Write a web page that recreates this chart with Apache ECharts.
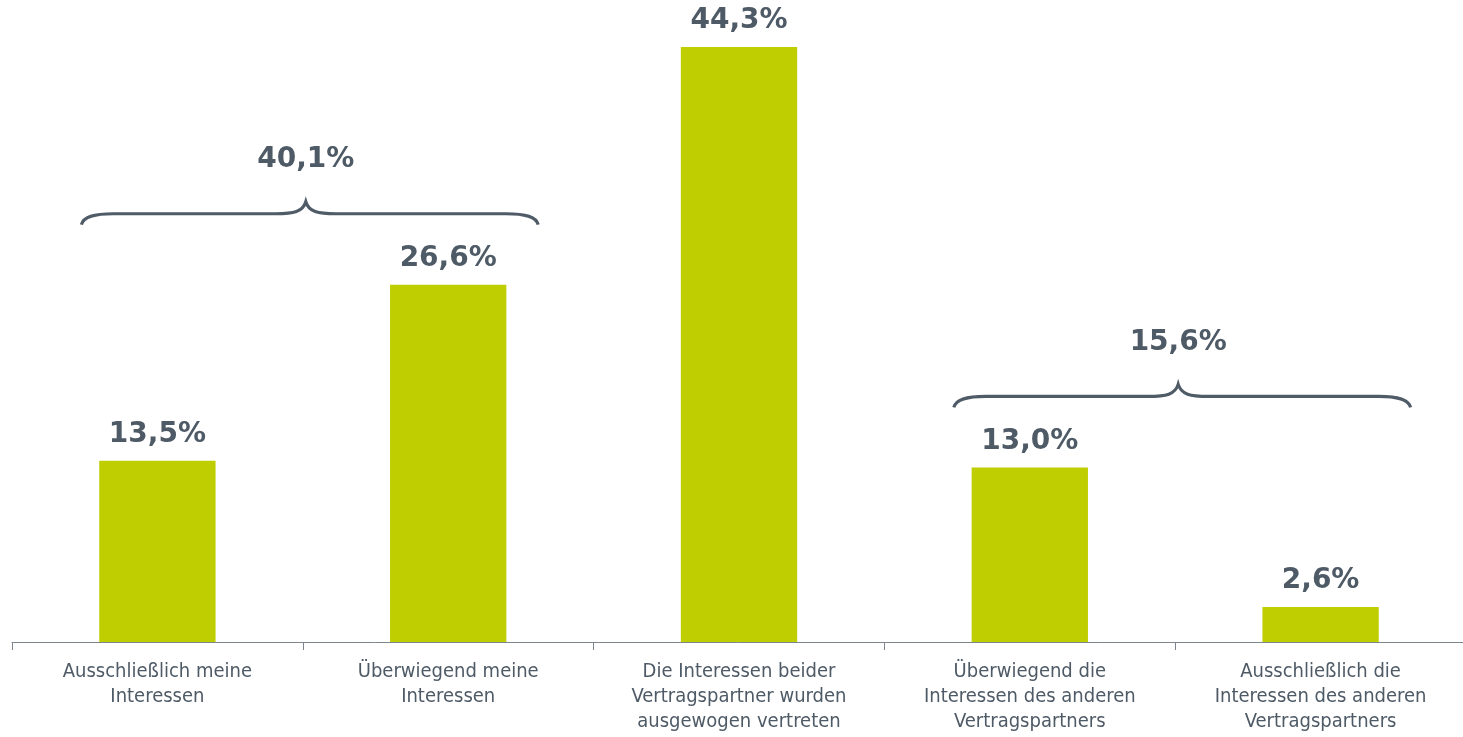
<!DOCTYPE html>
<html>
<head>
<meta charset="utf-8">
<style>
html,body{margin:0;padding:0;background:#fff;}
#chart{width:1463px;height:737px;}
</style>
<script src="https://cdn.jsdelivr.net/npm/echarts@6/dist/echarts.min.js"></script>
</head>
<body>
<div id="chart"></div>
<script>
var categories = [
  'Ausschließlich meine\nInteressen',
  'Überwiegend meine\nInteressen',
  'Die Interessen beider\nVertragspartner wurden\nausgewogen vertreten',
  'Überwiegend die\nInteressen des anderen\nVertragspartners',
  'Ausschließlich die\nInteressen des anderen\nVertragspartners'
];
var values = [13.5, 26.6, 44.3, 13.0, 2.6];
// brace groups: [first category index, last category index]
var groupStart = [0, 3];
var groupEnd = [1, 4];

var TEXT = '#4e5a66';
var BAR = '#bfce00';
var FONT = '"DejaVu Sans Condensed", "DejaVu Sans", Verdana, sans-serif';
var BOLD = '"DejaVu Sans", Verdana, sans-serif';

function fmt(v){ return v.toFixed(1).replace('.', ',') + '%'; }

var braceData = groupStart.map(function(s, i){
  var e = groupEnd[i];
  var sum = 0, mx = 0;
  for (var k = s; k <= e; k++){ sum += values[k]; mx = Math.max(mx, values[k]); }
  return [s, e, mx, Math.round(sum*10)/10];
});

var chart = echarts.init(document.getElementById('chart'));
chart.setOption({
  animation: false,
  grid: {left: 12, right: -3, top: 47, bottom: 95, containLabel: false, outerBoundsMode: 'none'},
  xAxis: {
    type: 'category',
    data: categories,
    axisLine: {lineStyle: {color: '#7d868f', width: 1}},
    axisTick: {show: true, length: 8, lineStyle: {color: '#7d868f'}},
    axisLabel: {
      color: TEXT, fontFamily: FONT, fontSize: 20, lineHeight: 25,
      margin: 17, interval: 0, align: 'center'
    }
  },
  yAxis: {type: 'value', min: 0, max: 44.3, show: false, splitLine: {show: false}},
  series: [
    {
      type: 'bar',
      data: values,
      barWidth: '40%',
      itemStyle: {color: BAR},
      label: {
        show: true, position: 'top', distance: 12,
        color: TEXT, fontFamily: BOLD, fontWeight: 'bold', fontSize: 28, lineHeight: 28,
        formatter: function(p){ return fmt(p.value); }
      }
    },
    {
      type: 'custom',
      data: braceData,
      encode: {x: [0, 1], y: 2},
      clip: false,
      silent: true,
      z: 5,
      renderItem: function(params, api){
        var xs = api.coord([api.value(0), 0])[0];
        var xe = api.coord([api.value(1), 0])[0];
        var yTop = api.coord([api.value(0), api.value(2)])[1];
        var xL = xs - 76, xR = xe + 90;
        var xm = (xL + xR) / 2 - 4;
        var y = yTop - 71;
        var h = 11, t = 12;
        var d = 'M' + xL + ',' + (y + h) +
          ' C' + (xL + 2) + ',' + (y + 3) + ' ' + (xL + 12) + ',' + y + ' ' + (xL + 32) + ',' + y +
          ' L' + (xm - 30) + ',' + y +
          ' C' + (xm - 12) + ',' + y + ' ' + (xm - 3) + ',' + (y - 2) + ' ' + xm + ',' + (y - t) +
          ' C' + (xm + 3) + ',' + (y - 2) + ' ' + (xm + 12) + ',' + y + ' ' + (xm + 30) + ',' + y +
          ' L' + (xR - 32) + ',' + y +
          ' C' + (xR - 12) + ',' + y + ' ' + (xR - 2) + ',' + (y + 3) + ' ' + xR + ',' + (y + h);
        return {
          type: 'group',
          children: [
            {type: 'path', shape: {pathData: d}, style: {stroke: '#4f5b67', fill: null, lineWidth: 3.2}},
            {type: 'text', x: xm, y: y - 54, style: {
              text: fmt(api.value(3)), fill: TEXT, font: 'bold 28px ' + BOLD,
              align: 'center', verticalAlign: 'middle'
            }}
          ]
        };
      }
    }
  ]
});
</script>
</body>
</html>
